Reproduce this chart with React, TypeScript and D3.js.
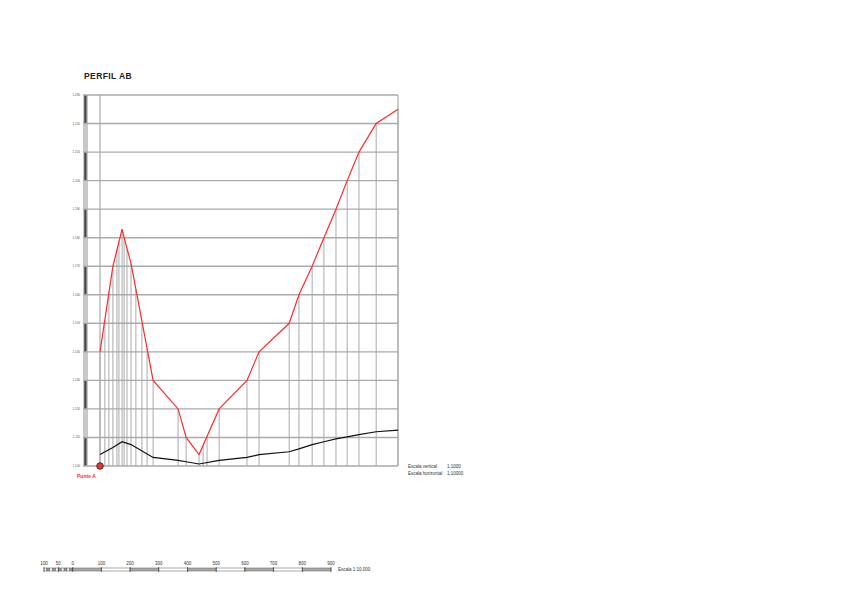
import React from "react";
import * as d3 from "d3";

// Profile vertices: distance (m) and elevation (m)
const distances = [0, 45, 77, 84, 108, 185, 272, 300, 345, 415, 512, 554, 659, 693, 739, 780, 822, 861, 902, 962, 1038];
const elevations = [1140, 1170, 1183, 1180, 1171, 1130, 1120, 1110, 1104, 1120, 1130, 1140, 1150, 1160, 1170, 1180, 1190, 1200, 1210, 1220, 1225];
const lowerLine = [1104, 1106.5, 1108.5, 1108.3, 1107.5, 1103, 1102, 1101.5, 1100.7, 1102, 1103, 1104, 1105, 1106, 1107.5, 1108.5, 1109.5, 1110.2, 1111, 1112, 1112.6];
// intermediate sampled stations (distance, elevation)
const stationDist = [17, 31, 59, 66, 94, 125, 146, 164, 359, 373];
const stationElev = [1151, 1161, 1176, 1179, 1176, 1162, 1150, 1141, 1107, 1110.5];
const yTicks = [1100, 1110, 1120, 1130, 1140, 1150, 1160, 1170, 1180, 1190, 1200, 1210, 1220, 1230];
const scaleBarTicks = [100, 50, 0, 100, 200, 300, 400, 500, 600, 700, 800, 900];
const scaleBarPos = [-100, -50, 0, 100, 200, 300, 400, 500, 600, 700, 800, 900];

const fmt = (v: number) => {
  const s = String(v);
  return s.length > 3 ? s.slice(0, s.length - 3) + "." + s.slice(-3) : s;
};

export default function App() {
  const x = d3.scaleLinear().domain([0, 1038]).range([100, 398]);
  const y = d3.scaleLinear().domain([1100, 1230]).range([466, 95]);
  const sb = d3.scaleLinear().domain([-100, 900]).range([44, 331]);

  const redPts: [number, number][] = distances.map((d, i) => [x(d), y(elevations[i])]);
  const blackPts: [number, number][] = distances.map((d, i) => [x(d), y(lowerLine[i])]);
  const line = d3.line();

  const verticals = [
    ...distances.map((d, i) => ({ d, e: elevations[i] })),
    ...stationDist.map((d, i) => ({ d, e: stationElev[i] })),
  ];

  const gridLeft = 83;
  const gridRight = x(1038);
  const bandIntervals = d3.range(0, yTicks.length - 1);

  return (
    <svg width={848} height={599} style={{ position: "absolute", left: 0, top: 0, background: "#fff" }}
      fontFamily="Liberation Sans, Arial, sans-serif">
      <text x={84} y={79} fontSize={8.5} fontWeight="bold" fill="#222" letterSpacing={0.4}>PERFIL AB</text>

      {/* vertical elevation band */}
      <rect x={83} y={y(1230)} width={5} height={y(1100) - y(1230)} fill="#c8c8c8" />
      {bandIntervals.filter(i => i % 2 === 0).map(i => (
        <rect key={"band" + i} x={84.3} y={y(yTicks[yTicks.length - 1 - i])} width={2.2}
          height={y(yTicks[yTicks.length - 2 - i]) - y(yTicks[yTicks.length - 1 - i])} fill="#444" />
      ))}

      {/* horizontal grid */}
      {yTicks.map(t => (
        <g key={"h" + t}>
          <line x1={gridLeft} x2={gridRight} y1={y(t)} y2={y(t)} stroke="#aaa" strokeWidth={1.4} />
          <text x={80} y={y(t) + 1} fontSize={3} textAnchor="end" fill="#555">{fmt(t)}</text>
        </g>
      ))}

      {/* full-height border verticals */}
      <line x1={x(0)} x2={x(0)} y1={y(1230)} y2={y(1100)} stroke="#aaa" strokeWidth={1.2} />
      <line x1={gridRight} x2={gridRight} y1={y(1230)} y2={y(1100)} stroke="#aaa" strokeWidth={1.2} />

      {/* station verticals */}
      {verticals.map((v, i) => (
        <line key={"v" + i} x1={x(v.d)} x2={x(v.d)} y1={y(1100)} y2={y(v.e)} stroke="#aaa" strokeWidth={1} />
      ))}

      <path d={line(blackPts) || ""} fill="none" stroke="#111" strokeWidth={1.2} />
      <path d={line(redPts) || ""} fill="none" stroke="#ff2a2a" strokeWidth={1.2} />

      <circle cx={x(0)} cy={y(1100)} r={3.3} fill="#e33" stroke="#222" strokeWidth={0.8} />
      <text x={77} y={478} fontSize={5} fill="#e33" fontWeight="bold">Punto A</text>

      <text x={408} y={468} fontSize={4.5} fill="#333">Escala vertical</text>
      <text x={447} y={468} fontSize={4.5} fill="#333">1:1000</text>
      <text x={408} y={475} fontSize={4.5} fill="#333">Escala horizontal</text>
      <text x={447} y={475} fontSize={4.5} fill="#333">1:10000</text>

      {/* graphic scale bar */}
      {scaleBarPos.map((p, i) => (
        <text key={"sbt" + i} x={sb(p)} y={565} fontSize={4.5} textAnchor="middle" fill="#333">{scaleBarTicks[i]}</text>
      ))}
      {d3.range(-100, 0, 10).map((p, i) => (
        <rect key={"sbs" + i} x={sb(p)} y={568} width={sb(p + 10) - sb(p)} height={3}
          fill={i % 2 === 0 ? "#fff" : "#999"} stroke="#555" strokeWidth={0.5} />
      ))}
      {d3.range(0, 900, 100).map((p, i) => (
        <rect key={"sbm" + i} x={sb(p)} y={568} width={sb(p + 100) - sb(p)} height={3}
          fill={i % 2 === 0 ? "#aaa" : "#fff"} stroke="#555" strokeWidth={0.5} />
      ))}
      {scaleBarPos.map((p, i) => (
        <line key={"sbk" + i} x1={sb(p)} x2={sb(p)} y1={567} y2={572} stroke="#333" strokeWidth={0.6} />
      ))}
      <text x={338} y={571} fontSize={4.5} fill="#333">Escala 1:10.000</text>
    </svg>
  );
}
